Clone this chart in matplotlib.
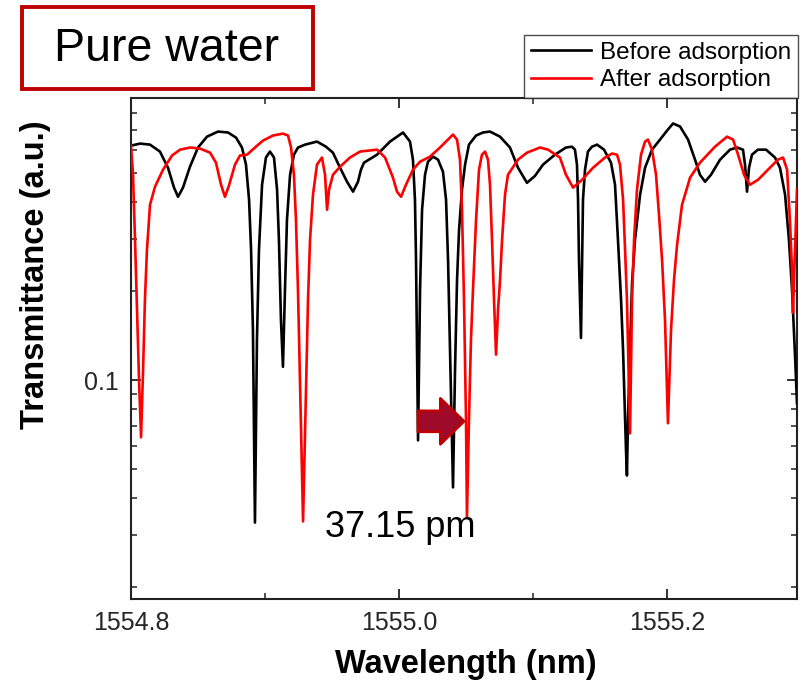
import matplotlib
matplotlib.use("Agg")
import matplotlib.pyplot as plt
from matplotlib import ticker
from matplotlib.patches import Rectangle

plt.rcParams['font.family'] = ['Liberation Sans', 'DejaVu Sans']

# spectra: wavelength (nm), transmittance (a.u.)
wl_before = [
    1554.8000, 1554.8067, 1554.8142, 1554.8216, 1554.8276, 1554.8321, 1554.8351, 1554.8388,
    1554.8440, 1554.8500, 1554.8567, 1554.8649, 1554.8724, 1554.8784, 1554.8828, 1554.8858,
    1554.8881, 1554.8896, 1554.8910, 1554.8925, 1554.8940, 1554.8955, 1554.8978, 1554.9007,
    1554.9037, 1554.9067, 1554.9090, 1554.9104, 1554.9119, 1554.9134, 1554.9149, 1554.9164,
    1554.9187, 1554.9216, 1554.9246, 1554.9299, 1554.9388, 1554.9455, 1554.9507, 1554.9560,
    1554.9612, 1554.9657, 1554.9694, 1554.9716, 1554.9739, 1554.9836, 1554.9933, 1555.0030,
    1555.0082, 1555.0104, 1555.0119, 1555.0127, 1555.0142, 1555.0157, 1555.0172, 1555.0194,
    1555.0216, 1555.0254, 1555.0291, 1555.0328, 1555.0351, 1555.0366, 1555.0381, 1555.0403,
    1555.0418, 1555.0433, 1555.0448, 1555.0470, 1555.0493, 1555.0522, 1555.0575, 1555.0627,
    1555.0679, 1555.0754, 1555.0828, 1555.0888, 1555.0955, 1555.1015, 1555.1075, 1555.1164,
    1555.1246, 1555.1291, 1555.1313, 1555.1328, 1555.1336, 1555.1343, 1555.1358, 1555.1366,
    1555.1373, 1555.1388, 1555.1410, 1555.1440, 1555.1478, 1555.1530, 1555.1582, 1555.1612,
    1555.1634, 1555.1657, 1555.1672, 1555.1694, 1555.1701, 1555.1709, 1555.1724, 1555.1739,
    1555.1761, 1555.1799, 1555.1836, 1555.1888, 1555.1948, 1555.2000, 1555.2045, 1555.2097,
    1555.2157, 1555.2209, 1555.2246, 1555.2284, 1555.2328, 1555.2396, 1555.2470, 1555.2522,
    1555.2567, 1555.2582, 1555.2597, 1555.2612, 1555.2634, 1555.2679, 1555.2739, 1555.2806,
    1555.2843, 1555.2881, 1555.2910, 1555.2933, 1555.2955, 1555.2970,
]
tr_before = [
    0.621, 0.631, 0.626, 0.593, 0.523, 0.448, 0.417, 0.448,
    0.527, 0.612, 0.666, 0.693, 0.688, 0.661, 0.612, 0.536,
    0.408, 0.276, 0.148, 0.0330, 0.137, 0.276, 0.458, 0.566,
    0.593, 0.566, 0.441, 0.298, 0.160, 0.111, 0.202, 0.349,
    0.495, 0.579, 0.612, 0.626, 0.641, 0.616, 0.588, 0.523,
    0.469, 0.434, 0.469, 0.515, 0.544, 0.579, 0.641, 0.688,
    0.641, 0.557, 0.408, 0.255, 0.0626, 0.202, 0.377, 0.495,
    0.548, 0.570, 0.557, 0.507, 0.408, 0.255, 0.126, 0.0434,
    0.108, 0.218, 0.322, 0.441, 0.536, 0.626, 0.672, 0.688,
    0.693, 0.666, 0.612, 0.523, 0.465, 0.491, 0.536, 0.579,
    0.612, 0.616, 0.602, 0.536, 0.408, 0.255, 0.139, 0.255,
    0.408, 0.515, 0.593, 0.616, 0.626, 0.602, 0.544, 0.458,
    0.298, 0.187, 0.126, 0.0579, 0.0476, 0.0749, 0.126, 0.213,
    0.298, 0.424, 0.523, 0.602, 0.651, 0.698, 0.738, 0.721,
    0.651, 0.557, 0.495, 0.469, 0.495, 0.557, 0.602, 0.612,
    0.602, 0.536, 0.434, 0.523, 0.579, 0.602, 0.602, 0.566,
    0.523, 0.424, 0.298, 0.202, 0.122, 0.0836,
]

wl_after = [
    1554.8000, 1554.8015, 1554.8030, 1554.8045, 1554.8060, 1554.8075, 1554.8090, 1554.8104,
    1554.8119, 1554.8142, 1554.8179, 1554.8239, 1554.8306, 1554.8366, 1554.8440, 1554.8515,
    1554.8590, 1554.8634, 1554.8672, 1554.8701, 1554.8731, 1554.8776, 1554.8813, 1554.8866,
    1554.8925, 1554.8985, 1554.9060, 1554.9134, 1554.9172, 1554.9194, 1554.9216, 1554.9231,
    1554.9246, 1554.9261, 1554.9284, 1554.9306, 1554.9321, 1554.9336, 1554.9358, 1554.9388,
    1554.9425, 1554.9448, 1554.9463, 1554.9478, 1554.9507, 1554.9560, 1554.9634, 1554.9709,
    1554.9784, 1554.9836, 1554.9896, 1554.9955, 1554.9985, 1555.0015, 1555.0052, 1555.0104,
    1555.0157, 1555.0231, 1555.0306, 1555.0366, 1555.0403, 1555.0433, 1555.0455, 1555.0470,
    1555.0485, 1555.0500, 1555.0507, 1555.0522, 1555.0537, 1555.0552, 1555.0575, 1555.0597,
    1555.0619, 1555.0642, 1555.0664, 1555.0679, 1555.0694, 1555.0709, 1555.0724, 1555.0739,
    1555.0754, 1555.0769, 1555.0791, 1555.0813, 1555.0888, 1555.0955, 1555.1052, 1555.1112,
    1555.1201, 1555.1246, 1555.1299, 1555.1366, 1555.1448, 1555.1537, 1555.1590, 1555.1627,
    1555.1649, 1555.1672, 1555.1687, 1555.1701, 1555.1724, 1555.1739, 1555.1754, 1555.1776,
    1555.1806, 1555.1836, 1555.1858, 1555.1888, 1555.1918, 1555.1940, 1555.1963, 1555.1985,
    1555.2007, 1555.2030, 1555.2052, 1555.2075, 1555.2112, 1555.2172, 1555.2246, 1555.2358,
    1555.2448, 1555.2493, 1555.2530, 1555.2575, 1555.2619, 1555.2679, 1555.2754, 1555.2828,
    1555.2866, 1555.2896, 1555.2918, 1555.2933, 1555.2940, 1555.2955, 1555.2970,
]
tr_after = [
    0.621, 0.495, 0.298, 0.173, 0.100, 0.0641, 0.108, 0.187,
    0.276, 0.392, 0.451, 0.515, 0.575, 0.602, 0.612, 0.607,
    0.588, 0.544, 0.458, 0.417, 0.455, 0.536, 0.575, 0.579,
    0.612, 0.646, 0.672, 0.682, 0.672, 0.612, 0.495, 0.349,
    0.202, 0.100, 0.0333, 0.0925, 0.187, 0.298, 0.424, 0.536,
    0.566, 0.495, 0.377, 0.441, 0.495, 0.527, 0.566, 0.593,
    0.598, 0.602, 0.566, 0.484, 0.434, 0.417, 0.458, 0.515,
    0.548, 0.570, 0.612, 0.651, 0.677, 0.651, 0.557, 0.377,
    0.187, 0.0732, 0.0343, 0.0732, 0.137, 0.202, 0.349, 0.515,
    0.579, 0.593, 0.557, 0.458, 0.298, 0.187, 0.122, 0.173,
    0.218, 0.298, 0.424, 0.495, 0.557, 0.588, 0.612, 0.602,
    0.566, 0.495, 0.448, 0.476, 0.523, 0.566, 0.584, 0.579,
    0.536, 0.408, 0.276, 0.187, 0.0661, 0.187, 0.298, 0.441,
    0.579, 0.641, 0.651, 0.602, 0.495, 0.363, 0.255, 0.160,
    0.0715, 0.148, 0.218, 0.287, 0.392, 0.484, 0.544, 0.616,
    0.666, 0.651, 0.579, 0.495, 0.458, 0.476, 0.515, 0.557,
    0.566, 0.515, 0.341, 0.236, 0.169, 0.276, 0.441,
]

x_ticks = [1554.8, 1555.0, 1555.2]
shift_text = '37.15 pm'

fig = plt.figure(figsize=(8.03, 6.88), dpi=100)
ax = fig.add_axes([131/803, 1 - 599/688, 666/803, 501/688])

ax.plot(wl_before, tr_before, color='black', lw=1.9, label='Before adsorption', zorder=3)
ax.plot(wl_after, tr_after, color='#ff0000', lw=1.9, label='After adsorption', zorder=3)

ax.set_yscale('log')
ax.set_xlim(1554.8, 1555.297)
ax.set_ylim(0.0182, 0.9)

ax.set_xticks(x_ticks)
ax.xaxis.set_major_formatter(ticker.FormatStrFormatter('%.1f'))
ax.xaxis.set_minor_locator(ticker.MultipleLocator(0.1))
ax.yaxis.set_major_formatter(ticker.FuncFormatter(lambda v, p: f'{v:g}'))
ax.yaxis.set_minor_formatter(ticker.NullFormatter())

ax.tick_params(which='both', direction='in', top=True, right=True,
               labelsize=18, labelcolor='#262626', color='#222222', pad=9)
ax.tick_params(which='major', length=7, width=1.3)
ax.tick_params(which='minor', length=4, width=1.1)
for s in ax.spines.values():
    s.set_linewidth(1.5)
    s.set_color('#222222')

leg = ax.legend(loc='lower right', bbox_to_anchor=(798/803, 1 - 98/688),
                bbox_transform=fig.transFigure, borderaxespad=0, fontsize=17.5,
                frameon=True, fancybox=False, edgecolor='#222222',
                handlelength=2.5, handletextpad=0.35, labelspacing=0.22, borderpad=0.28)
leg.get_frame().set_linewidth(1.0)

# shift arrow and label
ax.annotate('', xy=(1555.0485, 0.0726), xytext=(1555.0142, 0.0726),
            arrowprops=dict(arrowstyle='simple,head_length=17,head_width=33,tail_width=15',
                            mutation_scale=1, fc='#9E0B2A', ec='#C00000', lw=2,
                            shrinkA=0, shrinkB=0), zorder=5)
ax.text(1555.0007, 0.0318, shift_text, fontsize=26, ha='center', va='center', color='black')

# "Pure water" box
fig.add_artist(Rectangle((22/803, 1 - 89/688), 291/803, 82/688, transform=fig.transFigure,
                         fill=False, edgecolor='#C00000', lw=2.8))
fig.text(167/803, 1 - 49/688, 'Pure water', fontsize=33.5, ha='center', va='center')

fig.text(36/803, 1 - 275/688, 'Transmittance (a.u.)', rotation=90, fontsize=23.5,
         fontweight='bold', ha='center', va='center')
fig.text(466/803, 1 - 665/688, 'Wavelength (nm)', fontsize=23.5,
         fontweight='bold', ha='center', va='center')

fig.savefig('out.png', dpi=100)
